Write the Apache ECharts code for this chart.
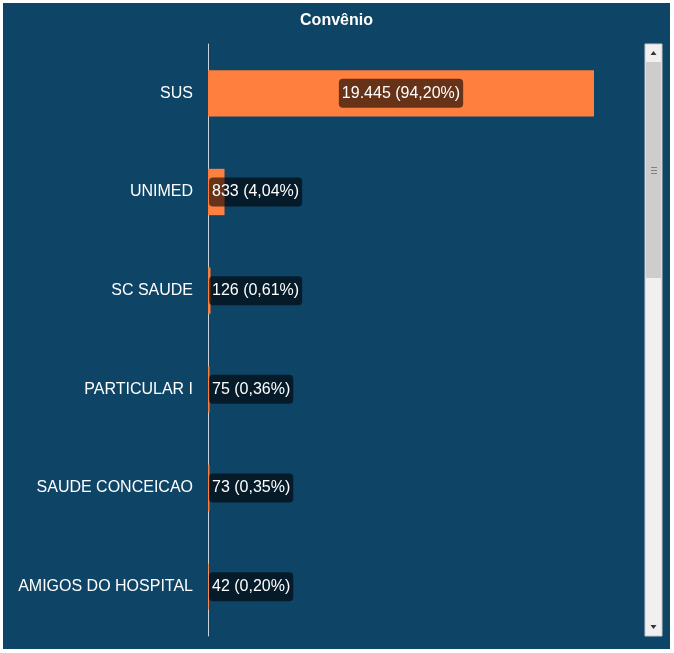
<!DOCTYPE html>
<html>
<head>
<meta charset="utf-8">
<script src="https://cdn.jsdelivr.net/npm/echarts@6/dist/echarts.min.js"></script>
<style>
  html, body { margin: 0; padding: 0; background: #ffffff; }
  #chart { position: absolute; left: 3px; top: 3px; width: 667px; height: 646px; }
</style>
</head>
<body>
<div id="chart"></div>
<script>
// dados do visual Convênio
const categorias = ['SUS', 'UNIMED', 'SC SAUDE', 'PARTICULAR I', 'SAUDE CONCEICAO', 'AMIGOS DO HOSPITAL']
const valores = [19445, 833, 126, 75, 73, 42]
const percentuais = ['94,20%', '4,04%', '0,61%', '0,36%', '0,35%', '0,20%']

const fundo = '#0e4466'
const laranja = '#ff7f3f'

function formataNumero(v) {
    return String(v).replace(/\B(?=(\d{3})+(?!\d))/g, '.')
}

let myChart = echarts.init(document.getElementById('chart'))

// barra de rolagem (estilo Power BI)
const sx = 642, sTop = 41, sBottom = 633, sw = 17
const scrollbar = [
    { type: 'rect', shape: { x: sx, y: sTop, width: sw, height: sBottom - sTop }, style: { fill: '#f0f0f0', stroke: '#c8c8c8', lineWidth: 1 } },
    { type: 'rect', shape: { x: sx + 1, y: sTop + 18, width: sw - 2, height: 216 }, style: { fill: '#cdcdcd' } },
    { type: 'polygon', shape: { points: [[sx + 8.5, sTop + 7], [sx + 5.5, sTop + 11], [sx + 11.5, sTop + 11]] }, style: { fill: '#333' } },
    { type: 'polygon', shape: { points: [[sx + 8.5, sBottom - 7], [sx + 5.5, sBottom - 11], [sx + 11.5, sBottom - 11]] }, style: { fill: '#333' } },
    { type: 'rect', shape: { x: sx + 6, y: 164, width: 6, height: 1 }, style: { fill: '#808080' } },
    { type: 'rect', shape: { x: sx + 6, y: 167, width: 6, height: 1 }, style: { fill: '#808080' } },
    { type: 'rect', shape: { x: sx + 6, y: 170, width: 6, height: 1 }, style: { fill: '#808080' } }
]

const options = {
    backgroundColor: fundo,
    animation: false,
    title: {
        text: 'Convênio',
        left: 'center',
        top: 5,
        textStyle: { color: '#ffffff', fontSize: 16, fontWeight: 'bold', fontFamily: 'Liberation Sans' }
    },
    grid: {
        left: 205,
        right: 76,
        top: 41,
        bottom: 13,
        containLabel: false
    },
    xAxis: {
        type: 'value',
        min: 0,
        max: 'dataMax',
        show: false
    },
    yAxis: {
        type: 'category',
        inverse: true,
        data: categorias,
        axisLine: { show: true, lineStyle: { color: '#c9d3dc', width: 1 } },
        axisTick: { show: false },
        axisLabel: {
            color: '#ffffff',
            fontSize: 16,
            fontFamily: 'Liberation Sans',
            margin: 15
        }
    },
    graphic: scrollbar,
    series: [
        {
            type: 'bar',
            barCategoryGap: '53%',
            itemStyle: { color: laranja },
            label: {
                show: true,
                color: '#ffffff',
                fontSize: 16,
                fontFamily: 'Liberation Sans',
                backgroundColor: 'rgba(0,0,0,0.6)',
                borderRadius: 4,
                padding: [7, 3, 6, 3],
                formatter: p => formataNumero(p.value) + ' (' + percentuais[p.dataIndex] + ')'
            },
            data: valores.map((v, i) => ({
                value: v,
                label: i === 0 ? { position: 'inside' } : { position: 'insideLeft', distance: 1 }
            }))
        }
    ]
}
myChart.setOption(options)
</script>
</body>
</html>
